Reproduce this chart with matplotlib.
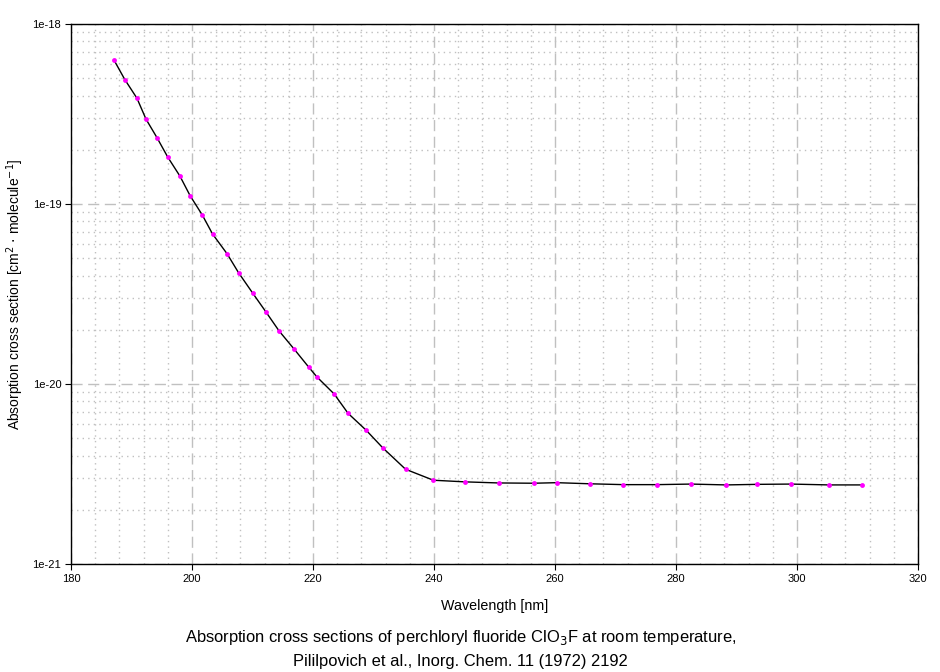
import matplotlib.pyplot as plt
import matplotlib.ticker as ticker

plt.rcParams['font.family'] = ['Liberation Sans', 'DejaVu Sans']

# ===== Data =====
wavelength = [187.1, 188.9, 190.9, 192.4, 194.2, 196.0, 198.0, 199.7, 201.7, 203.4,
              205.8, 207.7, 210.0, 212.2, 214.4, 216.9, 219.3, 220.7, 223.5, 225.8,
              228.8, 231.5, 235.3, 239.9, 245.1, 250.7, 256.5, 260.3, 265.8, 271.3,
              276.8, 282.5, 288.3, 293.4, 299.0, 305.3, 310.7]
cross_section = [6.31e-19, 4.91e-19, 3.87e-19, 2.96e-19, 2.34e-19, 1.82e-19, 1.43e-19,
                 1.11e-19, 8.69e-20, 6.81e-20, 5.29e-20, 4.15e-20, 3.21e-20, 2.52e-20,
                 1.97e-20, 1.56e-20, 1.24e-20, 1.09e-20, 8.80e-21, 6.87e-21, 5.53e-21,
                 4.43e-21, 3.36e-21, 2.92e-21, 2.86e-21, 2.82e-21, 2.81e-21, 2.83e-21,
                 2.79e-21, 2.76e-21, 2.76e-21, 2.78e-21, 2.75e-21, 2.77e-21, 2.78e-21,
                 2.75e-21, 2.75e-21]

y_ticks = [1e-21, 1e-20, 1e-19, 1e-18]
y_tick_labels = ["1e-21", "1e-20", "1e-19", "1e-18"]

fig = plt.figure(figsize=(9.4, 6.72), dpi=100)
ax = fig.add_axes([71 / 940, 108 / 672, 847 / 940, 540 / 672])

ax.plot(wavelength, cross_section, color='black', linewidth=1.0, zorder=3)
ax.plot(wavelength, cross_section, linestyle='none', marker='o', markersize=3.5,
        color='#ff00ff', markeredgewidth=0, zorder=4)

ax.set_yscale('log')
ax.set_xlim(180, 320)
ax.set_ylim(1e-21, 1e-18)

# ===== Ticks =====
ax.xaxis.set_major_locator(ticker.MultipleLocator(20))
ax.xaxis.set_minor_locator(ticker.MultipleLocator(4))
ax.set_yticks(y_ticks)
ax.set_yticklabels(y_tick_labels)
ax.yaxis.set_minor_locator(ticker.LogLocator(base=10, subs=range(2, 10)))
ax.yaxis.set_minor_formatter(ticker.NullFormatter())
ax.tick_params(axis='both', which='major', labelsize=8, direction='out', length=4,
               width=0.8, pad=3)
ax.tick_params(axis='both', which='minor', length=0)

# ===== Grid =====
ax.grid(True, which='major', color='#c0c0c0', linestyle=(0, (8, 4)), linewidth=1.0)
ax.grid(True, which='minor', color='#c0c0c0', linestyle=(0, (1, 3)), linewidth=1.0)
ax.set_axisbelow(True)

for spine in ax.spines.values():
    spine.set_linewidth(1.0)

# ===== Labels =====
ax.set_xlabel("Wavelength [nm]", fontsize=10.3, labelpad=11)
ax.set_ylabel(r"Absorption cross section [cm$^2$ $\cdot$ molecule$^{-1}$]", fontsize=10,
              labelpad=5)

fig.text(0.49, 0.052, "Absorption cross sections of perchloryl fluoride ClO$_3$F at room temperature,",
         ha='center', va='center', fontsize=11.9)
fig.text(0.49, 0.016, "Pililpovich et al., Inorg. Chem. 11 (1972) 2192",
         ha='center', va='center', fontsize=11.9)

fig.savefig("out.png", dpi=100)
